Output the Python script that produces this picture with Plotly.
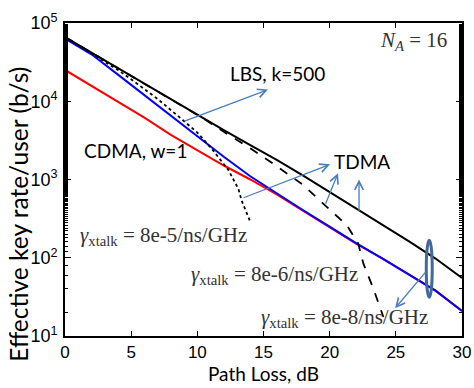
import plotly.graph_objects as go

# ---- data ----
path_loss = [0, 2, 4, 6, 8, 10, 12, 14, 16, 18, 20, 22, 24, 26, 28, 30]
tdma_8e8 = [66000, 41700, 26300, 16600, 10470, 6760, 4270, 2750, 1780, 1120,
            692, 427, 263, 162, 97.7, 55.0]
cdma_w1 = [25100, 15850, 9770, 6170, 3720, 2400, 1510, 1000, 646, 398,
           245, 151, 97.7, 61.7, 38.0, 20.9]
lbs_k500 = [63100, 39800, 21900, 12000, 6610, 3630, 1950, 1100, 665, 405,
            250, 154, 97.5, 61.5, 38.0, 20.9]

pl_8e5 = [0, 2, 4, 5.4, 7, 8.9, 10, 11.2, 12.35, 13.1, 13.35, 14.0]
tdma_8e5 = [66100, 40700, 25100, 17000, 10700, 5750, 3980, 2340, 1320, 759, 537, 288]

pl_8e6 = [0, 4, 8, 10.45, 12, 14, 16, 18, 19.65, 21.3, 22.15, 22.55, 23.3, 24.06]
tdma_8e6 = [66100, 26300, 10500, 6030, 4070, 2510, 1480, 851, 468, 260, 153, 84.1, 40.4, 17.5]

y_tick_vals = [10, 100, 1000, 10000, 100000]
y_tick_text = ["10<sup>1</sup>", "10<sup>2</sup>", "10<sup>3</sup>", "10<sup>4</sup>", "10<sup>5</sup>"]
x_tick_vals = [0, 5, 10, 15, 20, 25, 30]

fig = go.Figure()
fig.add_trace(go.Scatter(x=path_loss, y=cdma_w1, mode="lines",
                         line=dict(color="#ff0000", width=2)))
fig.add_trace(go.Scatter(x=path_loss, y=lbs_k500, mode="lines",
                         line=dict(color="#0000ff", width=2)))
fig.add_trace(go.Scatter(x=pl_8e5, y=tdma_8e5, mode="lines",
                         line=dict(color="black", width=1.8, dash="dot")))
fig.add_trace(go.Scatter(x=pl_8e6, y=tdma_8e6, mode="lines",
                         line=dict(color="black", width=1.8, dash="dash")))
fig.add_trace(go.Scatter(x=path_loss, y=tdma_8e8, mode="lines",
                         line=dict(color="black", width=2)))

x_tick_font = dict(family="Liberation Sans, Arial", size=17, color="black")
y_tick_font = dict(family="Liberation Sans, Arial", size=18, color="black")

fig.update_layout(
    width=474, height=388,
    margin=dict(l=65, r=12, t=23, b=52, autoexpand=False),
    plot_bgcolor="white", paper_bgcolor="white",
    showlegend=False,
    xaxis=dict(range=[0, 30], tickvals=x_tick_vals, ticks="inside", ticklen=5,
               tickcolor="black", showline=True, linecolor="black", linewidth=1.6,
               mirror="allticks", showgrid=False, zeroline=False, automargin=False,
               tickfont=x_tick_font, ticklabelstandoff=0),
    yaxis=dict(type="log", range=[1, 5], tickvals=y_tick_vals, ticktext=y_tick_text,
               ticks="inside", ticklen=6, tickcolor="black", showline=True,
               linecolor="black", linewidth=1.6, mirror="allticks", showgrid=False,
               zeroline=False, automargin=False, tickfont=y_tick_font, ticklabelstandoff=2,
               minor=dict(ticks="inside", ticklen=3, tickcolor="black", showgrid=False)),
)

# axis titles (placed as paper annotations to match the reference position)
fig.add_annotation(xref="paper", yref="paper", x=0.501, y=-0.12, text="Path Loss, dB",
                   showarrow=False, xanchor="center", yanchor="middle",
                   font=dict(family="Lato, Open Sans", size=19, color="black"))
fig.add_annotation(xref="paper", yref="paper", x=-0.118, y=0.388,
                   text="Effective key rate/user (b/s)", textangle=-90,
                   showarrow=False, xanchor="center", yanchor="middle",
                   font=dict(family="Lato, Open Sans", size=24.5, color="black"))

arrow_color = "#4a7ebb"
txt = dict(family="Lato, Open Sans", size=19, color="black")
serif = dict(family="Liberation Serif, Times New Roman", size=21, color="#333333")

def label(x, logy, text, font):
    fig.add_annotation(x=x, y=logy, xref="x", yref="y", text=text, showarrow=False,
                       font=font, xanchor="center", yanchor="middle")

def arrow(x, logy, ax, ay):
    fig.add_annotation(x=x, y=logy, xref="x", yref="y", ax=ax, ay=ay, text="",
                       showarrow=True, arrowhead=5, arrowsize=1.3, arrowwidth=1.3,
                       arrowcolor=arrow_color, standoff=0, startstandoff=0)

label(16.02, 4.357, "LBS, k=500", txt)
label(5.29, 3.373, "CDMA, w=1", txt)
label(22.45, 3.233, "TDMA", txt)
label(26.3, 4.766, "<i>N</i><sub><i>A</i></sub> = 16", serif)
label(7.41, 2.273, "<i>γ</i><sub>xtalk</sub> = 8e-5/ns/GHz", serif)
label(15.8, 1.786, "<i>γ</i><sub>xtalk</sub> = 8e-6/ns/GHz", serif)
label(21.09, 1.228, "<i>γ</i><sub>xtalk</sub> = 8e-8/ns/GHz", serif)

arrow(15.34, 4.149, -85, 32)
arrow(20.03, 3.194, -88, 34)
arrow(20.63, 3.079, -13, 32)
arrow(22.22, 3.0, 0, 33)
arrow(24.94, 1.354, 32, -38)

# ellipse around the converging curves near 27.5 dB (y in paper units of the log axis)
fig.add_shape(type="circle", xref="x", yref="paper", x0=27.3, x1=27.75,
              y0=(1.495 - 1) / 4, y1=(2.223 - 1) / 4,
              line=dict(color="#44689a", width=3))

fig.write_html("out.html", config={"displayModeBar": False},
               post_script="document.body.style.margin='0';")
